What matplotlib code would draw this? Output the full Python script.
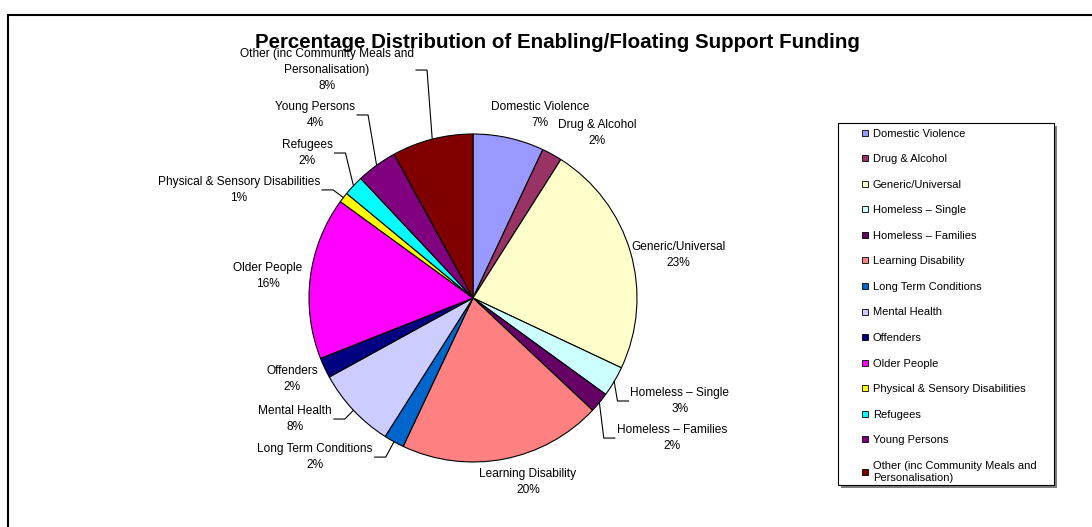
import numpy as np
import matplotlib
matplotlib.use('Agg')
import matplotlib.pyplot as plt
from matplotlib.patches import Rectangle
from matplotlib.lines import Line2D
from matplotlib.transforms import Bbox

plt.rcParams['font.family'] = ['Liberation Sans', 'DejaVu Sans']

categories = ['Domestic Violence', 'Drug & Alcohol', 'Generic/Universal',
              'Homeless \u2013 Single', 'Homeless \u2013 Families', 'Learning Disability',
              'Long Term Conditions', 'Mental Health', 'Offenders', 'Older People',
              'Physical & Sensory Disabilities', 'Refugees', 'Young Persons',
              'Other (inc Community Meals and\nPersonalisation)']
shares = [7, 2, 23, 3, 2, 20, 2, 8, 2, 16, 1, 2, 4, 8]
colours = ['#9999FF', '#993366', '#FFFFCC', '#CCFFFF', '#660066', '#FF8080',
           '#0066CC', '#CCCCFF', '#000080', '#FF00FF', '#FFFF00', '#00FFFF',
           '#800080', '#800000']

# label centres in pie-radius units, and whether a leader line is drawn
label_pos = [(0.41, 1.116), (0.756, 1.006), (1.25, 0.262), (1.262, -0.628),
             (1.213, -0.854), (0.335, -1.122), (-0.963, -0.970), (-1.085, -0.738),
             (-1.104, -0.494), (-1.25, 0.134), (-1.427, 0.659), (-1.012, 0.884),
             (-0.963, 1.116), (-0.890, 1.390)]
leader = [False, False, False, True, True, False, True, True,
          False, False, True, True, True, True]

W, H = 1092, 527
cx, cy, R = 473, 298, 164  # pie centre / radius in pixels
pitch = 16 / R             # label line pitch

fig = plt.figure(figsize=(W / 100, H / 100), dpi=100)
ax = fig.add_axes([0, 0, 1, 1])

wedges, _ = ax.pie(shares, colors=colours, startangle=90, counterclock=False,
                   radius=1, wedgeprops=dict(edgecolor='black', linewidth=0.8))
ax.set_xlim(-cx / R, (W - cx) / R)
ax.set_ylim(-(H - cy) / R, cy / R)
ax.set_aspect('auto')
ax.axis('off')

# each label line is its own text so neighbouring labels can sit close
label_texts = []
for name, val, (lx, ly) in zip(categories, shares, label_pos):
    lines = name.split('\n') + ['%d%%' % val]
    top = ly + (len(lines) - 1) / 2 * pitch
    group = [ax.text(lx, top - i * pitch, s, ha='center', va='center', fontsize=8.6)
             for i, s in enumerate(lines)]
    label_texts.append(group)

# leader lines: pie edge -> short horizontal tick beside the label
fig.canvas.draw()
renderer = fig.canvas.get_renderer()
gap, seg = 2 / R, 11 / R
for w, group, (lx, ly), has_line in zip(wedges, label_texts, label_pos, leader):
    if not has_line:
        continue
    ang = np.deg2rad((w.theta1 + w.theta2) / 2)
    ex, ey = np.cos(ang), np.sin(ang)
    bb = Bbox.union([t.get_window_extent(renderer) for t in group])
    bb = bb.transformed(ax.transData.inverted())
    if lx < 0:
        x0 = bb.x1 + gap
        x1 = x0 + seg
    else:
        x0 = bb.x0 - gap
        x1 = x0 - seg
    ax.plot([x0, x1, ex], [ly, ly, ey], color='black', lw=0.8)

# legend with its own box
handles = [Line2D([], [], ls='none', marker='s', markersize=5, markerfacecolor=c,
                  markeredgecolor='black', markeredgewidth=0.6) for c in colours]
leg = fig.legend(handles, categories, loc='upper left',
                 bbox_to_anchor=(856 / W, 1 - 123 / H), frameon=False,
                 fontsize=8, handlelength=0.7, handletextpad=0.3,
                 labelspacing=1.4, borderpad=0)
for t in leg.get_texts():
    t.set_linespacing(1.3)
fig.add_artist(Rectangle((841 / W, 1 - 488 / H), 216 / W, 362 / H,
                         transform=fig.transFigure, facecolor='0.5',
                         edgecolor='none', zorder=1))
fig.add_artist(Rectangle((838 / W, 1 - 485 / H), 216 / W, 362 / H,
                         transform=fig.transFigure, facecolor='white',
                         edgecolor='black', linewidth=0.8, zorder=1.5))
leg.set_zorder(3)

# outer chart frame
fig.add_artist(Rectangle((8 / W, -0.1), 1.2, 1 - 15 / H + 0.1,
                         transform=fig.transFigure, fill=False,
                         edgecolor='black', linewidth=1.5))

fig.text(557 / W, 1 - 42 / H, 'Percentage Distribution of Enabling/Floating Support Funding',
         ha='center', va='center', fontsize=14.8, fontweight='bold')

fig.savefig('out.png', dpi=100)
